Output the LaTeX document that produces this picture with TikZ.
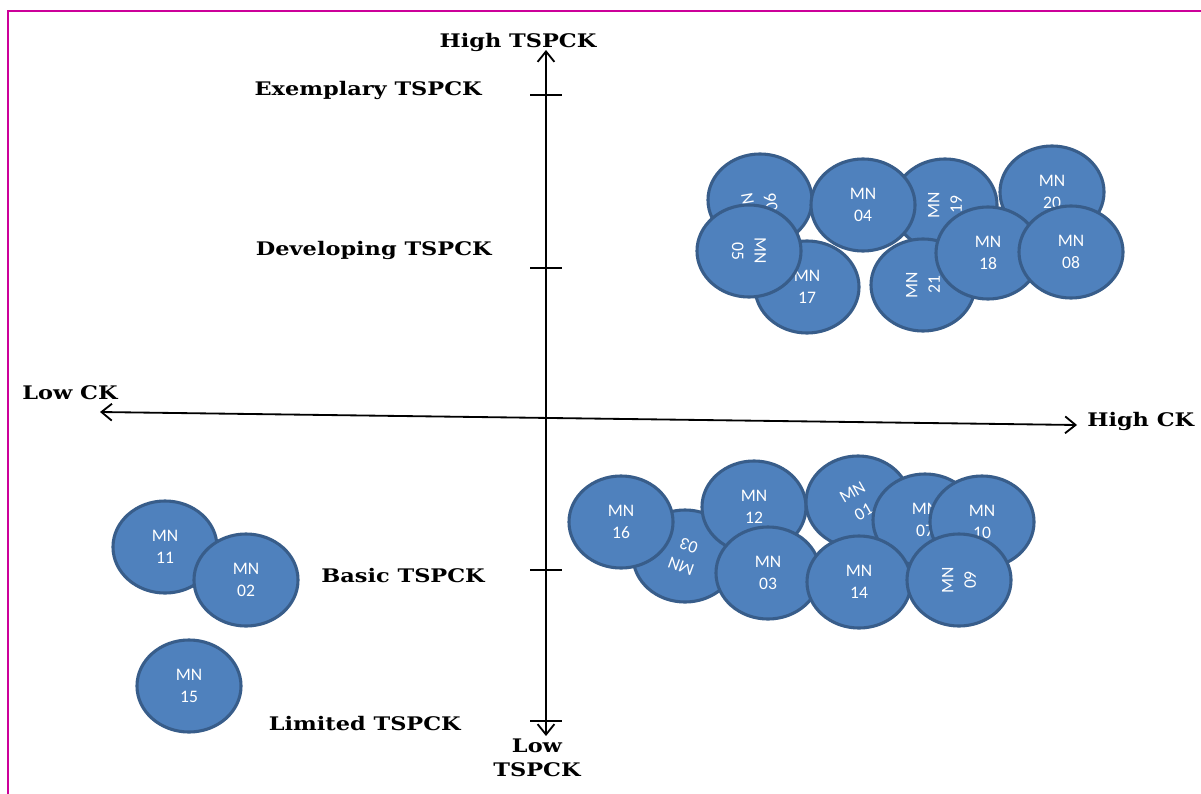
\documentclass[tikz,border=0pt]{standalone}
\usepackage{fontspec}
\setmainfont{DejaVu Serif}
\newfontfamily\lblfont[FakeStretch=1.2]{DejaVu Serif Bold}
\newfontfamily\mnfont{Carlito}
\usepackage{tikz}
\usetikzlibrary{positioning,shapes,arrows,arrows.meta}
\definecolor{mnfill}{HTML}{4F81BD}
\definecolor{mnline}{HTML}{385D8A}
\definecolor{framecol}{HTML}{CC0099}
\tikzstyle{mn}=[ellipse, draw=mnline, fill=mnfill, line width=2.2pt, minimum width=2.6cm, minimum height=2.3cm, inner sep=0pt]
\tikzstyle{mntxt}=[text=white, font=\mnfont\fontsize{12.5}{16}\selectfont, align=center, inner sep=0pt]
\tikzstyle{lbl}=[font=\lblfont\fontsize{13.3}{17.5}\selectfont, inner sep=0pt]
\tikzstyle{axis}=[line width=1.3pt]
\tikzstyle{tck}=[line width=1pt]

\begin{document}
\begin{tikzpicture}[x=0.025cm,y=-0.025cm,>={Straight Barb[length=2.6mm,width=4.2mm]}]
\useasboundingbox (0,0) rectangle (1201,794);
\draw[framecol, line width=2pt] (8,830) -- (8,11) -- (1240,11);

% axes
\coordinate (top) at (546,50);
\coordinate (bot) at (546,736);
\coordinate (left) at (100,412);
\coordinate (right) at (1077,425);
\draw[axis,<->] (bot) -- (top);
\draw[axis,<->] (left) -- (right);

% ticks on the TSPCK axis
\foreach \name/\y in {exem/95, deve/268, basi/570, limi/721}{
  \coordinate (\name) at (546,\y);
  \draw[tck] ([xshift=-0.4cm]\name) -- ([xshift=0.4cm]\name);
}

\node[lbl] (hightspck) at (518,42) {High TSPCK};
\node[lbl, anchor=east] (exemlbl) at (482,90) {Exemplary TSPCK};
\node[lbl, anchor=east] (develbl) at (492,250) {Developing TSPCK};
\node[lbl, anchor=east] (basilbl) at (485,576) {Basic TSPCK};
\node[lbl, anchor=east] (limilbl) at (461,724) {Limited TSPCK};
\node[lbl, align=center] (lowtspck) at (537,758) {Low\\TSPCK};
\node[lbl, anchor=west] (lowck) at (22,393) {Low CK};
\node[lbl, anchor=west] (highck) at (1087,421) {High CK};

% developing / high CK
\node[mn] (mn06) at (760,200) {};
\node[mntxt, rotate=100] at ([yshift=-0.12cm]mn06) {MN\\06};
\node[mn] (mn19) at (945,205) {};
\node[mntxt, rotate=90] at (mn19) {MN\\19};
\node[mn] (mn20) at (1052,192) {};
\node[mntxt] at (mn20) {MN\\20};
\node[mn] (mn17) at (807,287) {};
\node[mntxt] at (mn17) {MN\\17};
\node[mn] (mn04) at (863,205) {};
\node[mntxt] at (mn04) {MN\\04};
\node[mn] (mn21) at (923,285) {};
\node[mntxt, rotate=90] at (mn21) {MN\\21};
\node[mn] (mn05) at (749,251) {};
\node[mntxt, rotate=-90] at (mn05) {MN\\05};
\node[mn] (mn18) at (988,253) {};
\node[mntxt] at (mn18) {MN\\18};
\node[mn] (mn08) at (1071,252) {};
\node[mntxt] at (mn08) {MN\\08};

% basic / high CK
\node[mn] (mn03b) at (685,556) {};
\node[mntxt, rotate=160] at (mn03b) {MN\\03};
\node[mn] (mn16) at (621,522) {};
\node[mntxt] at (mn16) {MN\\16};
\node[mn] (mn12) at (754,507) {};
\node[mntxt] at (mn12) {MN\\12};
\node[mn] (mn03) at (768,573) {};
\node[mntxt] at (mn03) {MN\\03};
\node[mn] (mn01) at (858,502) {};
\node[mntxt, rotate=30] at (mn01) {MN\\01};
\node[mn] (mn07) at (925,520) {};
\node[mntxt] at (mn07) {MN\\07};
\node[mn] (mn10) at (982,522) {};
\node[mntxt] at (mn10) {MN\\10};
\node[mn] (mn14) at (859,582) {};
\node[mntxt] at (mn14) {MN\\14};
\node[mn] (mn09) at (959,580) {};
\node[mntxt, rotate=90] at (mn09) {MN\\09};

% low CK
\node[mn] (mn11) at (165,547) {};
\node[mntxt] at (mn11) {MN\\11};
\node[mn] (mn02) at (246,580) {};
\node[mntxt] at (mn02) {MN\\02};
\node[mn] (mn15) at (189,686) {};
\node[mntxt] at (mn15) {MN\\15};
\end{tikzpicture}
\end{document}
